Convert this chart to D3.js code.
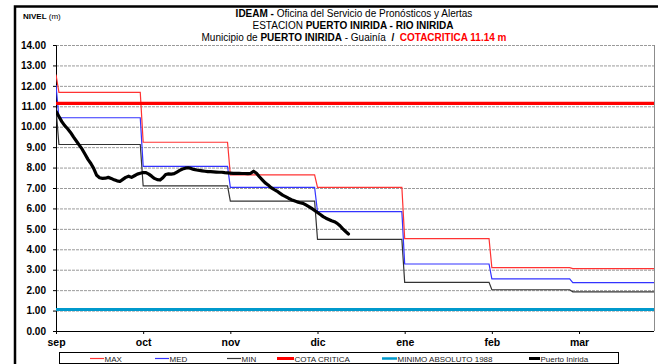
<!DOCTYPE html>
<html>
<head>
<meta charset="utf-8">
<script src="https://cdnjs.cloudflare.com/ajax/libs/d3/7.8.5/d3.min.js"></script>
<style>
  html, body { margin: 0; padding: 0; background: #fff; }
  svg { display: block; font-family: "Liberation Sans", Arial, sans-serif; }
  text { white-space: pre; }
</style>
</head>
<body>
<svg id="chart" width="658" height="364"></svg>
<script>
// Month axis: day offsets (from 1 Sep) where each month begins
const monthStartDays = [0, 30, 61, 91, 122, 153, 181, 212];
const monthLabels = ["sep", "oct", "nov", "dic", "ene", "feb", "mar"];
const levelTicks = d3.range(0, 15);

// Historical monthly envelopes (m): value on day 0, then one value per month
const stepChangeDays = [30, 61, 91, 122, 153, 179];
const maxFirstDay = 12.55;
const maxMonthly = [11.68, 9.24, 7.64, 7.03, 4.52, 3.10, 3.05];
const medFirstDay = 12.04;
const medMonthly = [10.44, 8.06, 7.03, 5.84, 3.28, 2.55, 2.37];
const minFirstDay = 10.9;
const minMonthly = [9.13, 7.10, 6.36, 4.49, 2.38, 2.02, 1.92];

// Reference levels (m)
const cotaCritica = 11.14;
const minimoAbsoluto1988 = 1.05;

// Observed levels at Puerto Inírida: day offset from 1 Sep, level (m)
const obsDays = d3.range(0, 103);
const obsLevels = [
  10.75, 10.50, 10.25, 10.05, 9.90, 9.72, 9.50, 9.30, 9.10, 8.90,
  8.65, 8.40, 8.20, 7.95, 7.62, 7.50, 7.47, 7.48, 7.52, 7.47,
  7.40, 7.35, 7.32, 7.42, 7.52, 7.58, 7.52, 7.60, 7.68, 7.72,
  7.76, 7.75, 7.68, 7.58, 7.47, 7.41, 7.39, 7.50, 7.66, 7.69,
  7.68, 7.70, 7.78, 7.86, 7.93, 7.97, 7.99, 7.96, 7.91, 7.88,
  7.86, 7.84, 7.82, 7.80, 7.80, 7.79, 7.78, 7.77, 7.77, 7.75,
  7.74, 7.73, 7.72, 7.72, 7.72, 7.71, 7.71, 7.70, 7.72, 7.82,
  7.72, 7.55, 7.40, 7.25, 7.15, 7.02, 6.93, 6.85, 6.75, 6.65,
  6.58, 6.50, 6.43, 6.38, 6.32, 6.28, 6.25, 6.17, 6.09, 6.00,
  5.90, 5.80, 5.70, 5.60, 5.52, 5.46, 5.40, 5.35, 5.27, 5.15,
  5.00, 4.87, 4.75
];

const svg = d3.select("#chart");
const plot = { left: 56, right: 654, top: 45, bottom: 331 };
const monthWidth = 87.17;

const x = d3.scaleLinear()
  .domain(monthStartDays)
  .range(monthStartDays.map((d, i) => plot.left + i * monthWidth));
const y = d3.scaleLinear().domain([0, 14]).range([plot.bottom, plot.top]);
const lastDay = x.invert(plot.right);

svg.append("rect").attr("width", 658).attr("height", 364).attr("fill", "#fff");

// Outer frame (left and top edges)
svg.append("path")
  .attr("d", `M15,364 V6.5 H658`)
  .attr("fill", "none").attr("stroke", "#000").attr("stroke-width", 2.5);

// Clip for plotted lines
svg.append("clipPath").attr("id", "plotClip")
  .append("rect")
  .attr("x", plot.left).attr("y", plot.top - 5)
  .attr("width", plot.right - plot.left).attr("height", plot.bottom - plot.top + 5);

// Horizontal gridlines
svg.append("g").selectAll("line")
  .data(levelTicks.filter(d => d > 0))
  .join("line")
  .attr("x1", plot.left).attr("x2", plot.right)
  .attr("y1", d => y(d) + 0.5).attr("y2", d => y(d) + 0.5)
  .attr("stroke", "#9a9a9a").attr("stroke-width", 1)
  .attr("stroke-dasharray", "3,1");

// Right edge of plot area
svg.append("line")
  .attr("x1", plot.right + 0.5).attr("x2", plot.right + 0.5)
  .attr("y1", plot.top).attr("y2", plot.bottom)
  .attr("stroke", "#8c8c8c").attr("stroke-width", 1);

// Axes
const yAxis = svg.append("g")
  .attr("transform", `translate(${plot.left},0)`)
  .call(d3.axisLeft(y).tickValues(levelTicks).tickFormat(d3.format(".2f"))
    .tickSize(3).tickPadding(7));
yAxis.selectAll("text").attr("font-size", 10).attr("font-weight", "bold")
  .attr("fill", "#000").attr("font-family", "Liberation Sans, Arial, sans-serif");

const xAxis = svg.append("g")
  .attr("transform", `translate(0,${plot.bottom})`)
  .call(d3.axisBottom(x).tickValues(monthStartDays.slice(0, 7))
    .tickFormat((d, i) => monthLabels[i]).tickSize(3).tickPadding(5));
xAxis.selectAll("text").attr("font-size", 10.5).attr("font-weight", "bold")
  .attr("fill", "#000").attr("font-family", "Liberation Sans, Arial, sans-serif");
xAxis.select(".domain").attr("d", `M${plot.left},0.5H${plot.right}`);
[yAxis, xAxis].forEach(a => a.selectAll("path, line").attr("stroke", "#000"));

// Build stepped envelope points
function stepPoints(first, monthly) {
  const pts = [[0, first], [1, monthly[0]]];
  stepChangeDays.forEach((d, i) => {
    pts.push([d - 1, monthly[i]]);
    pts.push([d, monthly[i + 1]]);
  });
  pts.push([lastDay, monthly[monthly.length - 1]]);
  return pts;
}

const line = d3.line().x(d => x(d[0])).y(d => y(d[1]));
const lines = svg.append("g").attr("clip-path", "url(#plotClip)");

lines.append("path").datum(stepPoints(minFirstDay, minMonthly))
  .attr("d", line).attr("fill", "none").attr("stroke", "#333").attr("stroke-width", 1.2);
lines.append("path").datum(stepPoints(medFirstDay, medMonthly))
  .attr("d", line).attr("fill", "none").attr("stroke", "#3333ff").attr("stroke-width", 1.2);
lines.append("path").datum(stepPoints(maxFirstDay, maxMonthly))
  .attr("d", line).attr("fill", "none").attr("stroke", "#ff3333").attr("stroke-width", 1.2);

lines.append("path").datum([[0, cotaCritica], [lastDay, cotaCritica]])
  .attr("d", line).attr("fill", "none").attr("stroke", "#ff0000").attr("stroke-width", 3.2);
lines.append("path").datum([[0, minimoAbsoluto1988], [lastDay, minimoAbsoluto1988]])
  .attr("d", line).attr("fill", "none").attr("stroke", "#0099cc").attr("stroke-width", 3);

lines.append("path").datum(obsDays.map((d, i) => [d, obsLevels[i]]))
  .attr("d", line).attr("fill", "none").attr("stroke", "#000")
  .attr("stroke-width", 3.2).attr("stroke-linejoin", "round").attr("stroke-linecap", "round");

// Titles
const title = svg.append("g").attr("text-anchor", "middle").attr("font-size", 10).attr("fill", "#000");
const t1 = title.append("text").attr("x", 354).attr("y", 16.5);
t1.append("tspan").attr("font-weight", "bold").text("IDEAM - ");
t1.append("tspan").text("Oficina del Servicio de Pronósticos y Alertas");
const t2 = title.append("text").attr("x", 353).attr("y", 28.5);
t2.append("tspan").text("ESTACION ");
t2.append("tspan").attr("font-weight", "bold").text("PUERTO INIRIDA - RIO INIRIDA");
const t3 = title.append("text").attr("x", 354).attr("y", 40.5);
t3.append("tspan").text("Municipio de ");
t3.append("tspan").attr("font-weight", "bold").text("PUERTO INIRIDA");
t3.append("tspan").text(" - Guainía  ");
t3.append("tspan").attr("font-weight", "bold").text("/  ");
t3.append("tspan").attr("font-weight", "bold").attr("fill", "#ff0000").text("COTACRITICA 11.14 m");

const yTitle = svg.append("text").attr("x", 23).attr("y", 19).attr("font-size", 8).attr("fill", "#000");
yTitle.append("tspan").attr("font-weight", "bold").text("NIVEL");
yTitle.append("tspan").text(" (m)");

// Legend
const legendItems = [
  { label: "MAX", color: "#ff3333", width: 1.2, x1: 90, x2: 104 },
  { label: "MED", color: "#3333ff", width: 1.2, x1: 155, x2: 169 },
  { label: "MIN", color: "#333", width: 1.2, x1: 227, x2: 241 },
  { label: "COTA CRITICA", color: "#ff0000", width: 3, x1: 277, x2: 294 },
  { label: "MINIMO ABSOLUTO 1988", color: "#0099cc", width: 2.5, x1: 382, x2: 397 },
  { label: "Puerto Inirida", color: "#000", width: 3, x1: 529, x2: 540 }
];
const legend = svg.append("g");
legend.append("rect").attr("x", 59.5).attr("y", 352.5).attr("width", 559).attr("height", 11)
  .attr("fill", "#fff").attr("stroke", "#000").attr("stroke-width", 1);
const li = legend.selectAll("g.item").data(legendItems).join("g").attr("class", "item");
li.append("line").attr("x1", d => d.x1).attr("x2", d => d.x2)
  .attr("y1", 358.5).attr("y2", 358.5)
  .attr("stroke", d => d.color).attr("stroke-width", d => d.width);
li.append("text").attr("x", d => d.x2 + 0.5).attr("y", 361.5)
  .attr("font-size", 8).attr("fill", "#222").text(d => d.label);
</script>
</body>
</html>
